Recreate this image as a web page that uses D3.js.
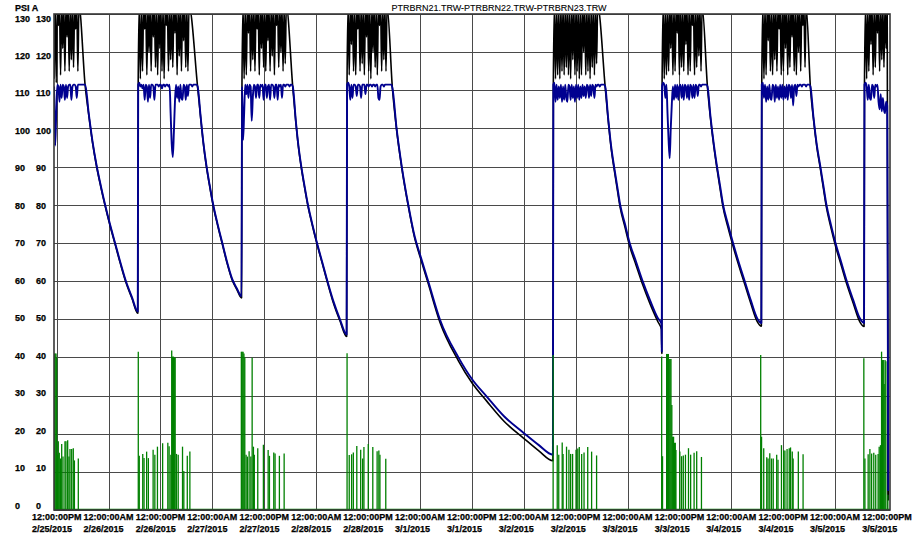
<!DOCTYPE html>
<html>
<head>
<meta charset="utf-8">
<script src="https://cdn.jsdelivr.net/npm/d3@7"></script>
<style>
body { margin: 0; background: #fff; }
svg { display: block; font-family: "Liberation Sans", Arial, sans-serif; }
.lbl { font-size: 9px; font-weight: bold; fill: #000; stroke: #000; stroke-width: 0.25px; }
.title { font-size: 9px; fill: #000; stroke: #000; stroke-width: 0.1px; }
</style>
</head>
<body>
<svg id="chart" width="918" height="534"></svg>
<script>
// hours are counted from 2/25/2015 12:00:00PM
var baseTime = new Date(2015, 1, 25, 12, 0, 0);
var hourRange = [-0.62, 192.7];
var psiTicks = [0, 10, 20, 30, 40, 50, 60, 70, 80, 90, 100, 110, 120, 130];
var chartTitle = "PTRBRN21.TRW-PTRBRN22.TRW-PTRBRN23.TRW";
var unitLabel = "PSI A";

// burner-on periods, sampled every swingStep hours
var swingStep = 0.25;
var blackSwingStart = [-0.6, 18.85, 42.85, 67.15, 114.85, 140.0, 163.05, 186.8];
var blackSwing = [
  [113,132,112,132,127,132,114,132,121,132,115,132,124,132,115,132,118,132,116,132,126,132,115,132],
  [112,132,113,132,115,132,126,132,114,132,120,132,115,132,124,132,116,132,114,132,121,132,115,132,113,132,127,132,115,132,118,132,116,132,125,132,114,132,119,132,115,132,123,132,116,132,115,132],
  [112,132,113,132,114,132,125,132,115,132,118,132,115,132,126,132,114,132,121,132,116,132,115,132,123,132,115,132,119,132,114,132,127,132,116,132,120,132,115,132,117,132],
  [113,132,114,132,122,132,115,132,114,132,126,132,115,132,117,132,114,132,124,132,115,132,113,132,120,132,116,132,114,132,127,132,115,132,118,132,115,132],
  [112,132,113,132,114,132,113,132,115,132,114,132,116,132,114,132,113,132,118,132,114,132,115,132,113,132,114,132,120,132,114,132,115,132,113,132,116,132,114,132,117,132],
  [112,132,113,132,114,132,115,132,121,132,114,132,115,132,125,132,114,132,116,132,115,132,122,132,114,132,115,132,127,132,114,132,116,132,119,132,115,132],
  [112,132,113,132,114,132,123,132,115,132,114,132,118,132,115,132,126,132,114,132,115,132,121,132,114,132,116,132,124,132,115,132,114,132,120,132,115,132,127,132,116,132],
  [112,132,113,132,115,132,122,132,114,132,116,132,125,132,115,132,118,132,116,132,121,132]
];
var blueSwingStart = [-0.6, 18.85, 42.85, 67.15, 114.85, 140.0, 163.05, 186.8];
var blueSwing = [
  [111,95.5,104,111.5,111,107,111.5,108,111.5,111,107.5,111.5,108,111,111.5,111.5,107.5,111,111.5,111.5,111,108,111.5,111.5,111.5,111.5,111.5,111.5,111.5],
  [111.5,112,111,111.5,110.5,111.5,107.5,111.5,111,107,111.5,108,111.5,111.5,111,107.5,111.5,111.5,111.5,111,111.5,111.5,110.5,111.5,111.5,111,111.5,111.5,111,111.5,104,96,92.5,99,107,111.5,108,111,107,111.5,108,107.5,111.5,111,107.5,111.5,108.5,111.5,111.5,111.5,111,111.5,111.5,111.5,111.5],
  [111,97,104,111.5,109,111.5,108,111.5,111,102,108,111.5,111,108,111.5,111.5,108,111.5,111,111.5,107.5,111.5,111.5,108,111,111.5,107.5,111.5,111.5,111,108,111.5,111.5,107.5,111.5,111,111.5,108,111.5,111.5,111,111.5,111.5,111.5,111,111.5,111.5],
  [111.5,112,111,107.5,111.5,108,111.5,111.5,111,108.5,111.5,111.5,111,108,111.5,111.5,111.5,109,111.5,111.5,111,111.5,111.5,111,111.5,111.5,111,111.5,111.5,108,107.5,111,111.5,111.5,111,111.5,111.5,111.5,111.5,111.5,111.5,111.5],
  [111.5,112,107,111.5,107.5,111,108,111.5,107,111,107.5,111.5,108,107,111.5,111,107.5,111.5,108,111,107,111.5,108,111.5,107.5,111,108,111.5,108.5,111,108,111.5,111,108,111.5,108.5,111.5,111,108,111.5,111,111.5,111.5,111,111.5,111.5,111.5,111.5],
  [111,112,111.5,108,111.5,104,97,92.2,100,106.5,111,107.5,111.5,108,111.5,107.5,111,111.5,108,111.5,107.5,111.5,111,108,111.5,107.5,111.5,111,108,111.5,108,111.5,111,108.5,111.5,111.5,111,111.5,111.5,111.5,111.5,111.5],
  [111.5,112,108,111.5,107,111,107.5,111.5,108,107.5,111.5,111,107,111.5,108,111,107.5,111.5,108,111.5,107.5,111,108,111.5,107.5,111.5,111,108,111.5,106,111,111.5,108.5,111.5,111,111.5,111.5,111,111.5,111.5,111.5,111,111.5,111.5,111.5],
  [111.5,112,111,107.5,111.5,108,107.5,111.5,111,108,111.5,111,111.5,107,105,109,104.5,108,105,104,107,106]
];

// burner-off pressure decay, [hour, psi]
var blueDecay = [
  [6.6,111.5],[7.4,104],[8.3,96.5],[9.2,90.5],[10.2,85],[11.2,80],[12.3,75],[13.5,70],[14.7,65],[16.0,60],[17.4,55.8],[18.75,52],
  [32.6,111],[33.3,103],[33.9,96.5],[34.6,90.5],[35.4,85],[36.2,80],[37.2,75],[38.3,70],[39.4,65],[40.6,60.5],[41.7,58],[42.75,56],
  [54.6,111],[55.3,102],[55.9,95.5],[56.5,90.5],[57.3,85],[58.1,80],[59.1,75],[60.2,70],[61.4,65],[62.6,60],[63.9,55],[65.5,50],[67.05,46],
  [77.65,110.5],[78.6,100],[79.8,90],[81.3,80],[82.8,71.6],[84.0,67],[85.9,60],[88.6,50],[92.9,40],[96.1,34.2],[99.4,29.8],[103.5,24.5],[108.0,20.2],[111.5,17],[114.75,14.5],
  [126.85,111],[127.5,103],[128.2,95.5],[128.9,90],[129.6,85],[130.3,80],[131.4,75],[132.5,70],[134.0,65],[135.5,60],[137.2,55],[139.0,50.3],[139.85,48.8],[139.93,41.5],
  [150.5,111],[151.2,103],[152.0,95.5],[152.7,90],[153.4,85],[154.1,80],[155.2,75],[156.4,70],[157.7,65],[159.1,60],[160.5,55],[162.0,50.2],[162.95,49],
  [174.3,111],[175.0,103],[175.8,95.5],[176.6,90],[177.3,85],[178.0,80],[179.0,75],[180.1,70],[181.4,65],[182.7,60],[184.2,55],[185.7,50.3],[186.7,49],
  [192.3,5]
];
var blackDecay = [
  [6.6,111],[7.4,103.7],[8.3,96.2],[9.2,90.2],[10.2,84.7],[11.2,79.7],[12.3,74.7],[13.5,69.7],[14.7,64.7],[16.0,59.7],[17.4,55.5],[18.75,51.6],
  [32.6,110.7],[33.3,102.7],[33.9,96.2],[34.6,90.2],[35.4,84.7],[36.2,79.7],[37.2,74.7],[38.3,69.7],[39.4,64.7],[40.6,60.2],[41.7,57.7],[42.75,55.6],
  [54.6,110.7],[55.3,101.7],[55.9,95.2],[56.5,90.2],[57.3,84.7],[58.1,79.7],[59.1,74.7],[60.2,69.7],[61.4,64.7],[62.6,59.7],[63.9,54.6],[65.5,49.6],[67.05,45.5],
  [77.65,110.3],[78.6,99.7],[79.8,89.7],[81.3,79.7],[82.8,71.2],[84.0,66.5],[85.9,59.4],[88.6,49.3],[92.9,39.1],[96.1,33.2],[99.4,28.6],[103.5,23.2],[108.0,18.8],[111.5,15.5],[114.75,12.9],
  [126.85,110.7],[127.5,102.5],[128.2,95],[128.9,89.4],[129.6,84.3],[130.3,79.3],[131.4,74.2],[132.5,69.2],[134.0,64.1],[135.5,59.1],[137.2,54.1],[139.0,49.4],[139.85,47.3],[139.93,41],
  [150.5,110.7],[151.2,102.5],[152.0,95],[152.7,89.4],[153.4,84.3],[154.1,79.3],[155.2,74.2],[156.4,69.2],[157.7,64.2],[159.1,59.2],[160.5,54.2],[162.0,49.4],[162.95,48.2],
  [174.3,110.7],[175.0,102.5],[175.8,95],[176.6,89.4],[177.3,84.3],[178.0,79.3],[179.0,74.2],[180.1,69.2],[181.4,64.2],[182.7,59.2],[184.2,54.2],[185.7,49.4],[186.7,48.1],
  [192.3,2.5]
];

// third trace: short pulses off a zero baseline, [hour, psi]
var greenSpikes = [
  [-0.55,41],[-0.35,41],[-0.15,41],[0.0,40],[0.2,14.5],[0.37,18],[0.6,15],[0.9,13.5],[1.16,17.3],[1.46,14],[1.92,18],[2.15,18],[2.54,18.3],[2.84,14],[3.08,16],[3.47,16],[3.84,16.2],[4.1,13],[5.0,13.5],
  [18.87,41.5],[19.1,14.2],[19.9,14.7],[20.2,13.6],[20.8,15.3],[21.2,13.6],[22.3,15.8],[22.7,14.5],[23.3,16.6],[24.5,17.5],[25.7,17.6],[26.0,16.7],[26.4,14.5],[26.6,41.8],[26.8,40.2],[27.0,40.2],[27.2,40],[27.4,40],[27.7,14.7],[28.1,14.5],[29.1,16.6],[29.4,10.2],[30.2,14.2],[30.8,15.3],
  [42.7,41.5],[42.9,41.5],[43.1,41.5],[43.3,41],[43.5,40],[43.8,14.5],[44.1,14],[44.5,15.4],[44.9,14],[45.2,39.9],[45.5,16.6],[45.7,14.5],[46.5,16.2],[47.8,17.1],[48.9,15.7],[49.2,14.2],[50.2,15.1],[50.5,14.8],[51.5,14.2],[52.6,14.8],
  [67.15,41.1],[67.65,14.4],[68.2,14.6],[68.6,15.1],[69.4,16.8],[70.3,15.8],[70.75,13.5],[71.05,16.5],[72.05,17.3],[73.1,16.5],[74.1,15.4],[74.5,15.6],[74.75,14.5],[76.1,13.4],
  [114.8,40.6],[115.75,17],[116.1,14.5],[116.9,17.7],[117.1,14.7],[117.9,16.6],[118.45,15.8],[118.85,14.7],[119.3,14.7],[120.1,15.8],[120.5,16.1],[120.85,16.5],[121.4,14.7],[121.95,15.1],[122.8,16.5],[123.7,15.3],[124.85,14.3],
  [139.9,40.2],[140.1,14.1],[141.05,40.9],[141.25,40.9],[141.45,40.9],[141.65,39.6],[141.85,39.6],[142.05,39.6],[142.25,27.5],[142.45,19.2],[142.65,19.2],[142.85,17.6],[143.05,17.6],[143.2,15.7],[144.1,15.3],[144.5,14.1],[144.9,14.3],[145.4,14.5],[146.1,16.2],[146.6,14.5],[147.4,15],[148.0,15.4],[149.1,13.9],
  [162.8,40.6],[163.0,19.2],[163.5,16.2],[164.2,13.8],[164.5,13.5],[164.9,14.9],[165.3,13.5],[165.7,13.5],[166.5,14.5],[166.8,13.2],[167.6,17],[168.1,15.6],[168.4,15.6],[168.9,16],[169.4,16.2],[169.7,16.4],[170.1,15.3],[170.3,13.5],[171.5,15.3],[172.6,14.6],
  [186.65,39.8],[186.9,13.5],[187.65,14.6],[188.05,16],[188.45,14.8],[188.95,15],[189.4,14.5],[189.95,14.7],[190.2,16.6],[190.5,17],[190.75,41.5],[190.95,39.3],[191.15,39.3],[191.35,33],[191.55,39.3],[191.75,39],[192.2,4]
];

var margin = {top: 14, right: 28, bottom: 24, left: 54},
  width = 918 - margin.left - margin.right,
  height = 534 - margin.top - margin.bottom;

function toDate(h) {
  return new Date(baseTime.getTime() + h * 3600000);
}

function swingPoints(starts, rows) {
  var pts = [];
  rows.forEach(function(row, k) {
    row.forEach(function(v, i) {
      pts.push([starts[k] + i * swingStep, v]);
    });
  });
  return pts;
}

var blackPts = swingPoints(blackSwingStart, blackSwing).concat(blackDecay)
  .sort(function(a, b) { return a[0] - b[0]; });
var bluePts = swingPoints(blueSwingStart, blueSwing).concat(blueDecay)
  .sort(function(a, b) { return a[0] - b[0]; });

var x = d3.scaleTime()
  .domain(hourRange.map(toDate))
  .range([0, width]);

var y = d3.scaleLinear()
  .domain([0, 130])
  .range([height, 0]);

// the tick labels sit on a slightly tighter spacing than the grid
var yLabel = d3.scaleLinear()
  .domain([0, 130])
  .range([height - 4.5, 4.3]);

var svg = d3.select("#chart");

svg.append("text").attr("class", "lbl")
  .attr("x", 15).attr("y", 10.5)
  .text(unitLabel);

svg.append("text").attr("class", "title")
  .attr("x", 499).attr("y", 10.5)
  .attr("text-anchor", "middle")
  .text(chartTitle);

var g = svg.append("g")
  .attr("transform", "translate(" + margin.left + "," + margin.top + ")");

g.append("clipPath").attr("id", "plotclip")
  .append("rect").attr("width", width).attr("height", height);

var xTicks = x.ticks(d3.timeHour.every(12));

g.append("g").attr("class", "grid")
  .selectAll("line.h")
  .data(psiTicks)
  .enter().append("line")
  .attr("x1", 0).attr("x2", width)
  .attr("y1", function(d) { return Math.round(y(d)) + 0.5; })
  .attr("y2", function(d) { return Math.round(y(d)) + 0.5; })
  .attr("stroke", "#4a4a4a").attr("stroke-width", 1);

g.append("g").attr("class", "grid")
  .selectAll("line.v")
  .data(xTicks)
  .enter().append("line")
  .attr("y1", 0).attr("y2", height)
  .attr("x1", function(d) { return Math.round(x(d)) + 0.5; })
  .attr("x2", function(d) { return Math.round(x(d)) + 0.5; })
  .attr("stroke", "#4a4a4a").attr("stroke-width", 1);

var line = d3.line()
  .curve(d3.curveMonotoneX)
  .x(function(d) { return x(toDate(d[0])); })
  .y(function(d) { return y(d[1]); });

var plot = g.append("g").attr("clip-path", "url(#plotclip)");

plot.append("path")
  .datum(blackPts)
  .attr("d", line)
  .attr("fill", "none")
  .attr("stroke", "#000")
  .attr("stroke-width", 1.6)
  .attr("stroke-linejoin", "round");

plot.append("path")
  .datum(bluePts)
  .attr("d", line)
  .attr("fill", "none")
  .attr("stroke", "#000090")
  .attr("stroke-width", 1.9)
  .attr("stroke-linejoin", "round");

plot.append("line")
  .attr("x1", 0).attr("x2", width)
  .attr("y1", y(0) - 0.5).attr("y2", y(0) - 0.5)
  .attr("stroke", "#008000").attr("stroke-width", 1.5);

plot.selectAll(".spike")
  .data(greenSpikes)
  .enter().append("line")
  .attr("class", "spike")
  .attr("x1", function(d) { return x(toDate(d[0])); })
  .attr("x2", function(d) { return x(toDate(d[0])); })
  .attr("y1", y(0))
  .attr("y2", function(d) { return y(d[1]); })
  .attr("stroke", "#008000")
  .attr("stroke-width", 1.3);

g.append("rect")
  .attr("x", 0).attr("y", 0)
  .attr("width", width).attr("height", height)
  .attr("fill", "none")
  .attr("stroke", "#383838")
  .attr("stroke-width", 1.6);

// two identical label columns on the left
[15 - margin.left, 36 - margin.left].forEach(function(cx) {
  g.append("g").selectAll("text")
    .data(psiTicks)
    .enter().append("text")
    .attr("class", "lbl")
    .attr("x", cx)
    .attr("y", function(d) { return yLabel(d) + 3.2; })
    .text(function(d) { return d; });
});

var fmtTime = d3.timeFormat("%I:%M:%S%p"),
  fmtDate = d3.timeFormat("%-m/%-d/%Y");

var xl = g.append("g").selectAll("text")
  .data(xTicks)
  .enter().append("text")
  .attr("class", "lbl");

xl.append("tspan")
  .attr("y", 519.5 - margin.top)
  .text(function(d) { return fmtTime(d); });
xl.append("tspan")
  .attr("y", 531.5 - margin.top)
  .text(function(d) { return fmtDate(d); });

xl.each(function(d) {
  var w = this.firstChild.getComputedTextLength();
  d3.select(this).selectAll("tspan").attr("x", x(d) - w / 2);
});
</script>
</body>
</html>
